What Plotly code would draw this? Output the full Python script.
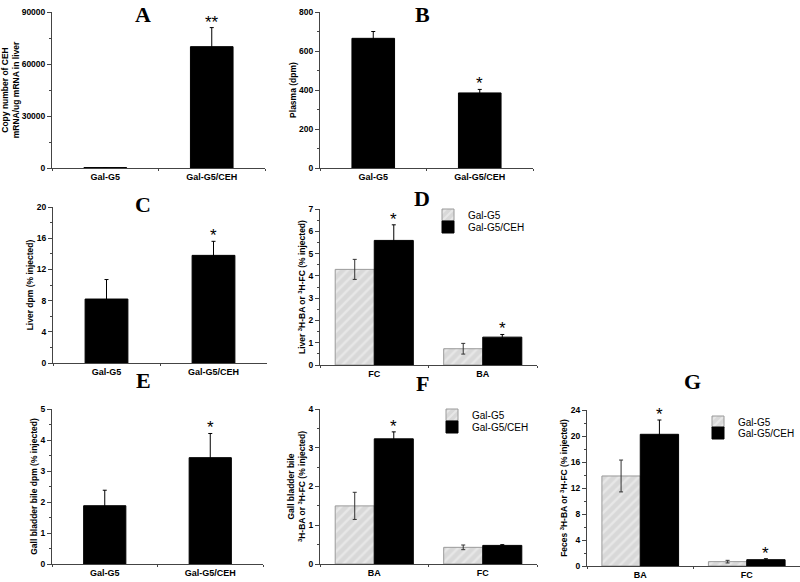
import plotly.graph_objects as go

# ---------------- data ----------------
single_cats = ["Gal-G5", "Gal-G5/CEH"]

a_vals = [250, 70000]
a_err = [0, 11000]
b_vals = [665, 385]
b_err = [35, 18]
c_vals = [8.2, 13.8]
c_err = [2.5, 1.8]
e_vals = [1.88, 3.43]
e_err = [0.5, 0.78]

d_cats = ["FC", "BA"]
d_g5 = [4.29, 0.73]
d_g5_err = [0.45, 0.24]
d_ceh = [5.59, 1.25]
d_ceh_err = [0.7, 0.12]

f_cats = ["BA", "FC"]
f_g5 = [1.50, 0.43]
f_g5_err = [0.35, 0.06]
f_ceh = [3.23, 0.48]
f_ceh_err = [0.18, 0.02]

g_cats = ["BA", "FC"]
g_g5 = [13.85, 0.67]
g_g5_err = [2.45, 0.2]
g_ceh = [20.26, 0.97]
g_ceh_err = [2.2, 0.15]

# significance marks
a_sig = ["", "**"]
b_sig = ["", "*"]
c_sig = ["", "*"]
e_sig = ["", "*"]
d_sig = ["*", "*"]
f_sig = ["*", ""]
g_sig = ["*", "*"]

W, H = 800, 582
FONT = "Liberation Sans"


def px_x(x0, x1):
    return [x0 / W, x1 / W]


def px_y(top, bottom):
    return [1 - bottom / H, 1 - top / H]


panels = {
    # name: (x0, x1, ytop, ybottom, yrange, dtick, title)
    "A": (52, 265, 12, 168, [0, 90000], 30000, "Copy number of CEH<br>mRNA/ug mRNA in liver"),
    "B": (320, 533, 12, 168, [0, 800], 200, "Plasma (dpm)"),
    "C": (53, 267, 207, 363, [0, 20], 4, "Liver dpm (% injected)"),
    "D": (320, 537, 209, 365, [0, 7], 1, "Liver <sup>3</sup>H-BA or <sup>3</sup>H-FC (% injected)"),
    "E": (52, 263, 409, 564, [0, 5], 1, "Gall bladder bile dpm (% injected)"),
    "F": (320, 537, 409, 564, [0, 4], 1, "Gall bladder bile<br><sup>3</sup>H-BA or <sup>3</sup>H-FC (% injected)"),
    "G": (587, 800, 410, 566, [0, 24], 4, "Feces <sup>3</sup>H-BA or <sup>3</sup>H-FC (% injected)"),
}
# (x center, y, anchor)
title_pos = {"A": (143, 0, "top"), "B": (422, 0, "top"), "C": (143, 204, "middle"),
             "D": (422, 198, "middle"), "E": (143, 380, "middle"), "F": (422, 383, "middle"),
             "G": (692, 381, "middle")}

fig = go.Figure()
layout = dict(
    width=W, height=H, margin=dict(l=0, r=0, t=0, b=0, autoexpand=False),
    paper_bgcolor="white", plot_bgcolor="white",
    barmode="group", bargap=0.28, bargroupgap=0,
    font=dict(family=FONT, color="black"),
    annotations=[],
)

axis_color = "#444444"
for i, (name, (x0, x1, yt, yb, yr, dt, ttl)) in enumerate(panels.items()):
    n = i + 1
    xa = "xaxis" if n == 1 else f"xaxis{n}"
    ya = "yaxis" if n == 1 else f"yaxis{n}"
    xr = "x" if n == 1 else f"x{n}"
    yr_ = "y" if n == 1 else f"y{n}"
    layout[xa] = dict(
        domain=px_x(x0, x1), anchor=yr_, range=[-0.5, 1.5], automargin=False,
        showline=True, linecolor=axis_color, linewidth=1,
        ticks="outside", tickson="boundaries", ticklen=2, tickcolor=axis_color,
        tickfont=dict(family=FONT, size=9, weight="bold", color="black"),
        showgrid=False, zeroline=False, fixedrange=True,
    )
    layout[ya] = dict(
        domain=px_y(yt, yb), anchor=xr, range=yr, dtick=dt, tick0=0, tickformat="d",
        automargin=False,
        showline=True, linecolor=axis_color, linewidth=1,
        ticks="outside", ticklen=4, tickcolor=axis_color,
        minor=dict(ticks="outside", ticklen=2, tickcolor=axis_color, dtick=dt / 2),
        tickfont=dict(family=FONT, size=8.5, weight="bold", color="black"),
        title=dict(text=ttl, font=dict(family=FONT, size=8.5, weight="bold", color="black"), standoff=1),
        showgrid=False, zeroline=False, fixedrange=True,
    )
    tx, ty, anc = title_pos[name]
    layout["annotations"].append(dict(
        text=name, x=tx / W, y=1 - ty / H, xref="paper", yref="paper",
        showarrow=False, xanchor="center", yanchor=anc,
        font=dict(family="Liberation Serif", size=22, weight="bold", color="black"),
    ))

err_style = dict(type="data", thickness=1, width=2, color="black", visible=True)
star_font = dict(family=FONT, size=17, color="black")

single = [("A", a_vals, a_err, a_sig), ("B", b_vals, b_err, b_sig),
          ("C", c_vals, c_err, c_sig), ("E", e_vals, e_err, e_sig)]
names = list(panels.keys())
for name, vals, errs, sig in single:
    n = names.index(name) + 1
    xr = "x" if n == 1 else f"x{n}"
    yr_ = "y" if n == 1 else f"y{n}"
    fig.add_trace(go.Bar(
        x=single_cats, y=vals, width=0.4, xaxis=xr, yaxis=yr_,
        marker=dict(color="black", line=dict(color="black", width=1)),
        error_y=dict(array=errs, **err_style), showlegend=False,
    ))
    for k, s in enumerate(sig):
        if s:
            layout["annotations"].append(dict(
                text=s, x=single_cats[k], y=vals[k] + errs[k], xref=xr, yref=yr_,
                showarrow=False, yanchor="bottom", yshift=-6, font=star_font,
            ))

hatch = dict(shape="/", bgcolor="#d8d8d8", fgcolor="#f6f6f6", size=7, solidity=0.35)
grouped = [("D", d_cats, d_g5, d_g5_err, d_ceh, d_ceh_err, d_sig, ("legend", "legend2"), (428, 215, 227)),
           ("F", f_cats, f_g5, f_g5_err, f_ceh, f_ceh_err, f_sig, ("legend3", "legend4"), (432, 415, 427)),
           ("G", g_cats, g_g5, g_g5_err, g_ceh, g_ceh_err, g_sig, ("legend5", "legend6"), (698, 422, 433))]
for name, cats, g5, g5e, ceh, cehe, sig, (lg1, lg2), (lx, ly1, ly2) in grouped:
    n = names.index(name) + 1
    xr = f"x{n}"
    yr_ = f"y{n}"
    fig.add_trace(go.Bar(
        x=cats, y=g5, name="Gal-G5", xaxis=xr, yaxis=yr_, legend=lg1,
        marker=dict(color="#d8d8d8", pattern=hatch, line=dict(color="#9a9a9a", width=1)),
        error_y=dict(array=g5e, **{**err_style, "color": "#333333"}),
    ))
    fig.add_trace(go.Bar(
        x=cats, y=ceh, name="Gal-G5/CEH", xaxis=xr, yaxis=yr_, legend=lg2,
        marker=dict(color="black", line=dict(color="black", width=1)),
        error_y=dict(array=cehe, **err_style),
    ))
    for lg, ly in ((lg1, ly1), (lg2, ly2)):
        layout[lg] = dict(
            x=lx / W, y=1 - ly / H, xanchor="left", yanchor="middle",
            bgcolor="rgba(0,0,0,0)", borderwidth=0,
            font=dict(family=FONT, size=10, color="black"),
            itemwidth=30,
        )
    for k, s in enumerate(sig):
        if s:
            layout["annotations"].append(dict(
                text=s, x=k + 0.18, y=ceh[k] + cehe[k], xref=xr, yref=yr_,
                showarrow=False, yanchor="bottom", yshift=-6, font=star_font,
            ))

fig.update_layout(**layout)
fig.write_html("out.html", config={"displayModeBar": False},
               post_script="document.body.style.margin='0';document.body.style.overflow='hidden';")
